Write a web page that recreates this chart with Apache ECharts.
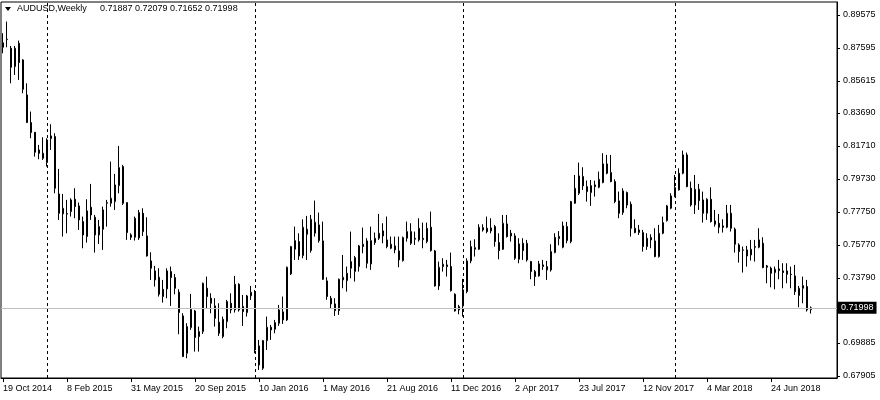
<!DOCTYPE html>
<html><head><meta charset="utf-8">
<script src="https://cdn.jsdelivr.net/npm/echarts@6/dist/echarts.min.js"></script>
<style>html,body{margin:0;padding:0;background:#fff}#c{width:880px;height:400px}</style>
</head><body><div id="c"></div>
<script>
// ---- chart data (weekly AUDUSD) ----
const symbolTitle = 'AUDUSD,Weekly';
const lastQuote = ['0.71887', '0.72079', '0.71652', '0.71998'];
const lastClose = 0.71998;
const monthNames = ['Jan','Feb','Mar','Apr','May','Jun','Jul','Aug','Sep','Oct','Nov','Dec'];
const firstWeekUTC = Date.UTC(2014, 9, 19);
const weekSlots = 209; // weekly slots on the time axis (incl. empty space at the right)
const yearSeparators = ['4 Jan 2015', '3 Jan 2016', '1 Jan 2017', '7 Jan 2018'];
const priceTicks = [0.67905, 0.69885, 0.71810, 0.73790, 0.75770, 0.77750, 0.79730, 0.81710, 0.83690, 0.85615, 0.87595, 0.89575];

const open = [
0.8763,0.8811,0.8757,0.8647,0.8787,0.8687,0.8477,0.8311,0.8253,0.8147,
0.8127,0.8071,0.8215,0.8227,0.7883,0.7763,0.7765,0.7777,0.7851,0.7811,
0.7717,0.7627,0.7803,0.7743,0.7637,0.7671,0.7827,0.7827,0.7837,0.7933,
0.8047,0.7831,0.7637,0.7623,0.7619,0.7767,0.7631,0.7481,0.7421,0.7383,
0.7267,0.7313,0.7417,0.7381,0.7293,0.7151,0.6927,0.7081,0.7181,0.7027,
0.7057,0.7317,0.7257,0.7211,0.7113,0.7027,0.7117,0.7227,0.7187,0.7341,
0.7207,0.7171,0.7271,0.7291,0.6971,0.6837,0.7003,0.7083,0.7071,0.7107,
0.7175,0.7127,0.7403,0.7551,0.7597,0.7513,0.7671,0.7543,0.7647,0.7697,
0.7601,0.7361,0.7257,0.7223,0.7183,0.7367,0.7363,0.7437,0.7417,0.7447,
0.7567,0.7601,0.7463,0.7591,0.7617,0.7661,0.7607,0.7557,0.7571,0.7541,
0.7483,0.7617,0.7657,0.7611,0.7607,0.7609,0.7597,0.7683,0.7541,0.7331,
0.7447,0.7457,0.7447,0.7281,0.7187,0.7211,0.7297,0.7481,0.7551,0.7551,
0.7667,0.7677,0.7661,0.7687,0.7591,0.7551,0.7703,0.7647,0.7631,0.7491,
0.7587,0.7487,0.7477,0.7417,0.7391,0.7447,0.7427,0.7427,0.7531,0.7615,
0.7563,0.7687,0.7597,0.7827,0.7887,0.7987,0.7927,0.7891,0.7937,0.7923,
0.7951,0.8063,0.8011,0.7957,0.7841,0.7771,0.7891,0.7821,0.7677,0.7651,
0.7651,0.7567,0.7621,0.7601,0.7507,0.7647,0.7723,0.7797,0.7867,0.7907,
0.8007,0.8117,0.7917,0.7817,0.7911,0.7847,0.7767,0.7851,0.7721,0.7707,
0.7691,0.7683,0.7767,0.7671,0.7577,0.7547,0.7547,0.7517,0.7567,0.7563,
0.7587,0.7451,0.7437,0.7411,0.7433,0.7421,0.7421,0.7401,0.7391,0.7273,
0.7317,0.7327,0.71887];

const close = [
0.8790,0.8809,0.8643,0.8757,0.8671,0.8511,0.8311,0.8251,0.8133,0.8127,
0.8097,0.8207,0.8231,0.7917,0.7767,0.7797,0.7762,0.7847,0.7807,0.7727,
0.7637,0.7781,0.7757,0.7637,0.7687,0.7787,0.7831,0.7857,0.7937,0.8041,
0.7827,0.7651,0.7623,0.7737,0.7771,0.7657,0.7511,0.7437,0.7367,0.7281,
0.7311,0.7421,0.7381,0.7317,0.7171,0.6907,0.7087,0.7191,0.7021,0.7057,
0.7347,0.7267,0.7227,0.7137,0.7047,0.7131,0.7237,0.7187,0.7341,0.7187,
0.7177,0.7271,0.7293,0.6947,0.6857,0.7003,0.7083,0.7067,0.7111,0.7187,
0.7127,0.7443,0.7567,0.7603,0.7511,0.7683,0.7641,0.7731,0.7713,0.7603,
0.7371,0.7267,0.7223,0.7183,0.7371,0.7383,0.7407,0.7477,0.7501,0.7571,
0.7581,0.7467,0.7603,0.7617,0.7647,0.7631,0.7567,0.7581,0.7547,0.7487,
0.7621,0.7657,0.7587,0.7617,0.7677,0.7617,0.7677,0.7543,0.7331,0.7443,
0.7461,0.7447,0.7303,0.7181,0.7207,0.7307,0.7481,0.7567,0.7561,0.7683,
0.7681,0.7657,0.7679,0.7597,0.7543,0.7707,0.7627,0.7631,0.7497,0.7583,
0.7543,0.7587,0.7417,0.7387,0.7463,0.7457,0.7447,0.7537,0.7623,0.7628,
0.7691,0.7603,0.7837,0.7917,0.7991,0.7931,0.7897,0.7933,0.7927,0.7971,
0.8063,0.8007,0.7957,0.7837,0.7767,0.7901,0.7817,0.7677,0.7651,0.7667,
0.7567,0.7617,0.7607,0.7507,0.7647,0.7711,0.7811,0.7871,0.7921,0.8007,
0.8117,0.7927,0.7817,0.7911,0.7843,0.7767,0.7851,0.7717,0.7701,0.7683,
0.7683,0.7767,0.7677,0.7581,0.7537,0.7545,0.7511,0.7551,0.7563,0.7607,
0.7441,0.7443,0.7407,0.7431,0.7423,0.7411,0.7401,0.7399,0.7297,0.7317,
0.7333,0.7187,0.71998];

const low = [
0.8727,0.8763,0.8547,0.8597,0.8567,0.8487,0.8311,0.8217,0.8107,0.8091,
0.8087,0.8047,0.8147,0.7887,0.7727,0.7627,0.7647,0.7747,0.7737,0.7667,
0.7557,0.7591,0.7727,0.7531,0.7583,0.7547,0.7687,0.7807,0.7787,0.7887,
0.7817,0.7607,0.7607,0.7603,0.7607,0.7631,0.7507,0.7367,0.7327,0.7267,
0.7231,0.7257,0.7211,0.7281,0.7041,0.6907,0.6897,0.7067,0.6937,0.6937,
0.7043,0.7197,0.7167,0.7087,0.7031,0.7017,0.7077,0.7167,0.7171,0.7177,
0.7091,0.7147,0.7247,0.6927,0.6827,0.6827,0.6947,0.7007,0.7047,0.7091,
0.7103,0.7121,0.7397,0.7487,0.7487,0.7497,0.7487,0.7531,0.7627,0.7591,
0.7367,0.7247,0.7197,0.7151,0.7157,0.7317,0.7297,0.7377,0.7357,0.7417,
0.7527,0.7437,0.7427,0.7577,0.7607,0.7587,0.7557,0.7551,0.7527,0.7443,
0.7477,0.7597,0.7577,0.7577,0.7597,0.7557,0.7587,0.7537,0.7327,0.7307,
0.7417,0.7387,0.7297,0.7177,0.7161,0.7147,0.7287,0.7467,0.7507,0.7547,
0.7657,0.7647,0.7647,0.7567,0.7491,0.7547,0.7621,0.7597,0.7487,0.7467,
0.7487,0.7477,0.7371,0.7331,0.7387,0.7427,0.7367,0.7417,0.7527,0.7575,
0.7557,0.7587,0.7587,0.7823,0.7877,0.7907,0.7837,0.7811,0.7867,0.7917,
0.7947,0.8001,0.7953,0.7827,0.7737,0.7757,0.7797,0.7627,0.7647,0.7637,
0.7537,0.7547,0.7557,0.7503,0.7501,0.7641,0.7717,0.7791,0.7863,0.7903,
0.8001,0.7923,0.7807,0.7763,0.7787,0.7711,0.7727,0.7711,0.7687,0.7647,
0.7651,0.7677,0.7657,0.7531,0.7471,0.7411,0.7447,0.7483,0.7477,0.7557,
0.7437,0.7347,0.7323,0.7311,0.7371,0.7317,0.7347,0.7317,0.7277,0.7203,
0.7227,0.7177,0.71652];

const high = [
0.8847,0.8917,0.8771,0.8771,0.8803,0.8691,0.8547,0.8377,0.8253,0.8177,
0.8223,0.8217,0.8301,0.8247,0.8033,0.7883,0.7847,0.7857,0.7917,0.7831,
0.7747,0.7851,0.7943,0.7757,0.7727,0.7807,0.7847,0.8077,0.8003,0.8171,
0.8057,0.7831,0.7647,0.7747,0.7787,0.7797,0.7743,0.7533,0.7451,0.7437,
0.7367,0.7437,0.7447,0.7403,0.7311,0.7167,0.7107,0.7283,0.7187,0.7087,
0.7351,0.7387,0.7287,0.7257,0.7227,0.7147,0.7247,0.7287,0.7391,0.7347,
0.7277,0.7277,0.7331,0.7307,0.7007,0.7007,0.7147,0.7097,0.7127,0.7217,
0.7267,0.7447,0.7571,0.7687,0.7647,0.7731,0.7751,0.7757,0.7843,0.7771,
0.7717,0.7383,0.7271,0.7257,0.7375,0.7517,0.7447,0.7657,0.7511,0.7577,
0.7681,0.7617,0.7687,0.7651,0.7763,0.7707,0.7747,0.7627,0.7627,0.7627,
0.7627,0.7717,0.7707,0.7657,0.7737,0.7711,0.7711,0.7777,0.7547,0.7477,
0.7497,0.7487,0.7531,0.7287,0.7217,0.7373,0.7497,0.7603,0.7611,0.7701,
0.7701,0.7747,0.7737,0.7697,0.7647,0.7757,0.7757,0.7667,0.7647,0.7617,
0.7617,0.7607,0.7481,0.7427,0.7481,0.7487,0.7481,0.7581,0.7647,0.7660,
0.7717,0.7715,0.7841,0.7997,0.8071,0.8043,0.7963,0.7967,0.7963,0.8017,
0.8127,0.8117,0.8117,0.7971,0.7897,0.7917,0.7897,0.7837,0.7731,0.7697,
0.7667,0.7647,0.7641,0.7677,0.7697,0.7747,0.7817,0.7887,0.7997,0.8037,
0.8143,0.8131,0.7957,0.7997,0.7943,0.7897,0.7857,0.7923,0.7787,0.7763,
0.7731,0.7817,0.7817,0.7681,0.7587,0.7567,0.7571,0.7607,0.7607,0.7677,
0.7623,0.7457,0.7447,0.7447,0.7487,0.7467,0.7467,0.7447,0.7457,0.7331,
0.7387,0.7367,0.72079];

// ---- build ----
const weeks = [];
for (let i = 0; i < weekSlots; i++) {
  const d = new Date(firstWeekUTC + i * 7 * 86400000);
  weeks.push(d.getUTCDate() + ' ' + monthNames[d.getUTCMonth()] + ' ' + d.getUTCFullYear());
}
const candles = open.map((o, i) => [o, close[i], low[i], high[i]]);
const FONT = '"Liberation Sans", Arial, sans-serif';
const dateLabelAt = (idx) => idx % 16 === 0 && idx < open.length;

const chart = echarts.init(document.getElementById('c'), null, { renderer: 'canvas' });
chart.setOption({
  animation: false,
  backgroundColor: '#fff',
  textStyle: { fontFamily: FONT },
  grid: { left: 1, right: 43, top: 2, bottom: 22, containLabel: false, outerBoundsMode: 'none',
          show: true, borderColor: '#000', borderWidth: 1, backgroundColor: '#fff' },
  xAxis: {
    type: 'category', data: weeks, boundaryGap: true,
    axisLine: { show: true, lineStyle: { color: '#000', width: 1 } },
    axisTick: { show: true, alignWithLabel: true, interval: dateLabelAt, length: 4, lineStyle: { color: '#000' } },
    axisLabel: { interval: dateLabelAt, align: 'left', margin: 6, color: '#000', fontSize: 9, fontFamily: FONT, hideOverlap: false },
    splitLine: { show: false }
  },
  yAxis: {
    type: 'value', position: 'right', min: 0.67785, max: 0.90345, scale: true,
    axisLine: { show: true, lineStyle: { color: '#000', width: 1 } },
    axisTick: { show: true, length: 3, customValues: priceTicks, lineStyle: { color: '#000' } },
    axisLabel: { customValues: priceTicks, margin: 6, color: '#000', fontSize: 9, fontFamily: FONT, formatter: v => v.toFixed(5) },
    splitLine: { show: false }
  },
  graphic: [
    { type: 'polygon', shape: { points: [[5, 7], [11, 7], [8, 11]] }, style: { fill: '#000' } },
    { type: 'text', left: 17, top: 4, style: { text: symbolTitle, fill: '#000', font: '9px ' + FONT } },
    { type: 'text', left: 100, top: 4, style: { text: lastQuote.join(' '), fill: '#000', font: '9px ' + FONT } }
  ],
  series: [{
    type: 'candlestick',
    data: candles,
    barWidth: 2,
    itemStyle: { color: '#fff', color0: '#000', borderColor: '#000', borderColor0: '#000', borderWidth: 1 },
    emphasis: { disabled: true },
    markLine: {
      silent: true, symbol: ['none', 'none'], animation: false,
      data: [
        ...yearSeparators.map(d => ({ xAxis: d, lineStyle: { type: [3, 3], color: '#000', width: 1 }, label: { show: false } })),
        { yAxis: lastClose, lineStyle: { type: 'solid', color: '#c0c0c0', width: 1 },
          label: { show: true, position: 'end', distance: 1, formatter: lastQuote[3], color: '#fff', backgroundColor: '#000',
                   padding: [2, 3, 1, 3], fontSize: 9, fontFamily: FONT } }
      ]
    }
  }]
});
</script></body></html>
